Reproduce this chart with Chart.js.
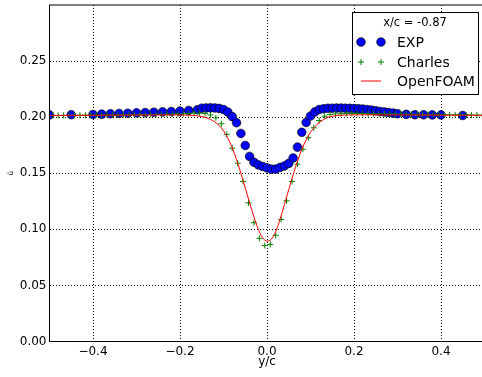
<!DOCTYPE html>
<html>
<head>
<meta charset="utf-8">
<script src="https://cdn.jsdelivr.net/npm/chart.js@4"></script>
<style>
  html, body { margin: 0; padding: 0; background: #fff; overflow: hidden; }
  canvas { display: block; }
</style>
</head>
<body>
<canvas id="chart" width="490" height="377"></canvas>
<script>
// data
const legendTitle = "x/c = -0.87";

const expX = [-0.50, -0.45, -0.40, -0.38, -0.36, -0.34, -0.32, -0.30, -0.28, -0.26, -0.24, -0.22, -0.20, -0.18, -0.16,
  -0.15, -0.14, -0.13, -0.12, -0.11, -0.10, -0.09, -0.08, -0.07, -0.06, -0.05, -0.04, -0.03, -0.02, -0.01,
  0.00, 0.01, 0.02, 0.03, 0.04, 0.05, 0.06, 0.07, 0.08, 0.09, 0.10, 0.11, 0.12, 0.13, 0.14, 0.15,
  0.16, 0.17, 0.18, 0.19, 0.20, 0.21, 0.22, 0.23, 0.24, 0.25, 0.26, 0.27, 0.28, 0.29, 0.30,
  0.32, 0.34, 0.36, 0.38, 0.40, 0.45];
const expY = [0.2020, 0.2022, 0.2024, 0.2027, 0.2030, 0.2033, 0.2035, 0.2038, 0.2041, 0.2044, 0.2047, 0.2050, 0.2054, 0.2060, 0.2066,
  0.2080, 0.2082, 0.2083, 0.2082, 0.2078, 0.2068, 0.2045, 0.2005, 0.1950, 0.1855, 0.1748, 0.1650, 0.1598, 0.1575, 0.1560,
  0.1548, 0.1537, 0.1537, 0.1552, 0.1565, 0.1588, 0.1636, 0.1733, 0.1865, 0.1953, 0.2010, 0.2047, 0.2068, 0.2075, 0.2079, 0.2080,
  0.2081, 0.2081, 0.2080, 0.2079, 0.2077, 0.2075, 0.2072, 0.2068, 0.2063, 0.2057, 0.2051, 0.2046, 0.2041, 0.2036, 0.2031,
  0.2025, 0.2022, 0.2021, 0.2020, 0.2020, 0.2015];

const charlesX = [-0.4925, -0.4800, -0.4675, -0.4550, -0.4425, -0.4300, -0.4175, -0.4050, -0.3925, -0.3800,
  -0.3675, -0.3550, -0.3425, -0.3300, -0.3175, -0.3050, -0.2925, -0.2800, -0.2675, -0.2550,
  -0.2425, -0.2300, -0.2175, -0.2050, -0.1925, -0.1800, -0.1675, -0.1550, -0.1425, -0.1300,
  -0.1175, -0.1050, -0.0925, -0.0800, -0.0675, -0.0550, -0.0425, -0.0300, -0.0175, -0.0050,
  0.0075, 0.0200, 0.0325, 0.0450, 0.0575, 0.0700, 0.0825, 0.0950, 0.1075, 0.1200,
  0.1325, 0.1450, 0.1575, 0.1700, 0.1825, 0.1950, 0.2075, 0.2200, 0.2325, 0.2450,
  0.2575, 0.2700, 0.2825, 0.2950, 0.3075, 0.3200, 0.3325, 0.3450, 0.3575, 0.3700,
  0.3825, 0.3950, 0.4075, 0.4200, 0.4325, 0.4450, 0.4575, 0.4700, 0.4825, 0.4950];
const charlesY = [0.2015, 0.2015, 0.2016, 0.2016, 0.2017, 0.2017, 0.2018, 0.2018, 0.2019, 0.2019,
  0.2020, 0.2020, 0.2021, 0.2021, 0.2022, 0.2022, 0.2023, 0.2023, 0.2024, 0.2024,
  0.2025, 0.2026, 0.2027, 0.2028, 0.2030, 0.2033, 0.2036, 0.2036, 0.2032, 0.2020,
  0.1994, 0.1941, 0.1847, 0.1723, 0.1590, 0.1427, 0.1236, 0.1059, 0.0920, 0.0856,
  0.0865, 0.0947, 0.1088, 0.1254, 0.1427, 0.1581, 0.1714, 0.1817, 0.1905, 0.1970,
  0.2009, 0.2024, 0.2029, 0.2031, 0.2032, 0.2032, 0.2032, 0.2031, 0.2031, 0.2030,
  0.2030, 0.2029, 0.2029, 0.2028, 0.2027, 0.2027, 0.2026, 0.2025, 0.2025, 0.2024,
  0.2023, 0.2023, 0.2022, 0.2021, 0.2021, 0.2020, 0.2020, 0.2019, 0.2019, 0.2018];

const foamX = [-0.50, -0.40, -0.30, -0.22, -0.19, -0.17, -0.16, -0.15, -0.14, -0.13, -0.12, -0.11, -0.10,
  -0.09, -0.08, -0.07, -0.06, -0.05, -0.04, -0.03, -0.02, -0.01, 0.00, 0.01, 0.02, 0.03, 0.04, 0.05,
  0.06, 0.07, 0.08, 0.09, 0.10, 0.11, 0.12, 0.13, 0.14, 0.15, 0.16, 0.18, 0.22, 0.30, 0.40, 0.50];
const foamY = [0.2015, 0.2017, 0.2019, 0.2020, 0.2019, 0.2016, 0.2012, 0.2005, 0.1995, 0.1980, 0.1958, 0.1925, 0.1878,
  0.1812, 0.1728, 0.1622, 0.1500, 0.1370, 0.1237, 0.1110, 0.1000, 0.0925, 0.0895, 0.0912, 0.0980, 0.1090, 0.1220, 0.1355,
  0.1487, 0.1607, 0.1712, 0.1798, 0.1865, 0.1915, 0.1952, 0.1980, 0.1998, 0.2008, 0.2014, 0.2019, 0.2021, 0.2020, 0.2018, 0.2016];

const xTicks = [-0.4, -0.2, 0.0, 0.2, 0.4];
const yTicks = [0.00, 0.05, 0.10, 0.15, 0.20, 0.25];

const FONT = "'DejaVu Sans', sans-serif";

function toPoints(xs, ys) {
    return xs.map((x, i) => ({ x: x, y: ys[i] }));
}

// axes frame (matplotlib spines)
const framePlugin = {
    id: "frame",
    afterDatasetsDraw(chart) {
        const { ctx, chartArea: a } = chart;
        ctx.save();
        ctx.strokeStyle = "#000";
        ctx.lineWidth = 1;
        ctx.strokeRect(a.left, a.top, a.right - a.left, a.bottom - a.top);
        ctx.restore();
    }
};

// boxed legend with two markers per row
const legendPlugin = {
    id: "boxLegend",
    afterDraw(chart) {
        const ctx = chart.ctx;
        const bx = 352.5, by = 12.5, bw = 126, bh = 82;
        ctx.save();
        ctx.fillStyle = "#fff";
        ctx.fillRect(bx, by, bw, bh);
        ctx.strokeStyle = "#000";
        ctx.lineWidth = 1;
        ctx.strokeRect(bx, by, bw, bh);

        ctx.fillStyle = "#000";
        ctx.textBaseline = "middle";
        ctx.textAlign = "center";
        ctx.font = "11.5px " + FONT;
        ctx.fillText(legendTitle, 415, 23);

        const rows = [42, 62, 81];
        ctx.textAlign = "left";
        ctx.font = "14px " + FONT;
        chart.data.datasets.forEach((ds, i) => {
            const y = rows[i];
            if (ds.showLine === false) {
                [361, 381].forEach(x => {
                    ctx.fillStyle = ds.backgroundColor;
                    ctx.strokeStyle = ds.borderColor;
                    ctx.lineWidth = ds.borderWidth;
                    ctx.beginPath();
                    if (ds.pointStyle === "circle") {
                        ctx.arc(x, y, ds.pointRadius, 0, Math.PI * 2);
                        ctx.fill();
                        ctx.stroke();
                    } else {
                        ctx.moveTo(x - ds.pointRadius, y);
                        ctx.lineTo(x + ds.pointRadius, y);
                        ctx.moveTo(x, y - ds.pointRadius);
                        ctx.lineTo(x, y + ds.pointRadius);
                        ctx.stroke();
                    }
                });
            } else {
                ctx.strokeStyle = ds.borderColor;
                ctx.lineWidth = ds.borderWidth;
                ctx.beginPath();
                ctx.moveTo(361, y);
                ctx.lineTo(381, y);
                ctx.stroke();
            }
            ctx.fillStyle = "#000";
            ctx.fillText(ds.label, 397, y + 1);
        });
        ctx.restore();
    }
};

const ctx = document.getElementById("chart").getContext("2d");

const chart = new Chart(ctx, {
    type: "scatter",
    data: {
        datasets: [{
            label: "EXP",
            data: toPoints(expX, expY),
            showLine: false,
            pointStyle: "circle",
            pointRadius: 4.3,
            backgroundColor: "#0000ff",
            borderColor: "#000",
            borderWidth: 0.7,
            clip: 0,
            order: 3
        }, {
            label: "Charles",
            data: toPoints(charlesX, charlesY),
            showLine: false,
            pointStyle: "cross",
            pointRadius: 3,
            backgroundColor: "#008000",
            borderColor: "#008000",
            borderWidth: 1,
            clip: 0,
            order: 2
        }, {
            label: "OpenFOAM",
            data: toPoints(foamX, foamY),
            showLine: true,
            pointRadius: 0,
            borderColor: "#ff0000",
            backgroundColor: "#ff0000",
            borderWidth: 1,
            cubicInterpolationMode: "monotone",
            clip: 0,
            order: 1
        }]
    },
    options: {
        responsive: false,
        animation: false,
        layout: { padding: { top: 4.5, right: 5.5, left: 0, bottom: 0 } },
        plugins: {
            legend: { display: false },
            tooltip: { enabled: false }
        },
        scales: {
            x: {
                type: "linear",
                min: -0.5,
                max: 0.5,
                afterBuildTicks: s => { s.ticks = xTicks.map(v => ({ value: v })); },
                afterFit: s => { s.height = 35.5; s.paddingLeft = 0; s.paddingRight = 0; },
                grid: { color: "#000", lineWidth: 1, drawTicks: false },
                border: { display: false, dash: [1, 2] },
                ticks: {
                    color: "#000",
                    font: { family: FONT, size: 12 },
                    padding: 3,
                    maxRotation: 0,
                    callback: v => v.toFixed(1).replace("-", "\u2212")
                },
                title: {
                    display: true,
                    text: "y/c",
                    color: "#000",
                    font: { family: FONT, size: 12 },
                    padding: { top: 0, bottom: 8 }
                }
            },
            y: {
                type: "linear",
                min: 0,
                max: 0.3,
                afterBuildTicks: s => { s.ticks = yTicks.map(v => ({ value: v })); },
                afterFit: s => { s.width = 49.5; s.paddingTop = 0; s.paddingBottom = 0; },
                grid: { color: "#000", lineWidth: 1, drawTicks: false },
                border: { display: false, dash: [1, 2] },
                ticks: {
                    color: "#000",
                    font: { family: FONT, size: 12 },
                    padding: 3,
                    callback: v => v.toFixed(2)
                },
                title: {
                    display: true,
                    text: "\u016B",
                    color: "#000",
                    font: { family: FONT, size: 7 },
                    padding: { top: 7, bottom: 0 }
                }
            }
        }
    },
    plugins: [framePlugin, legendPlugin]
});
</script>
</body>
</html>
